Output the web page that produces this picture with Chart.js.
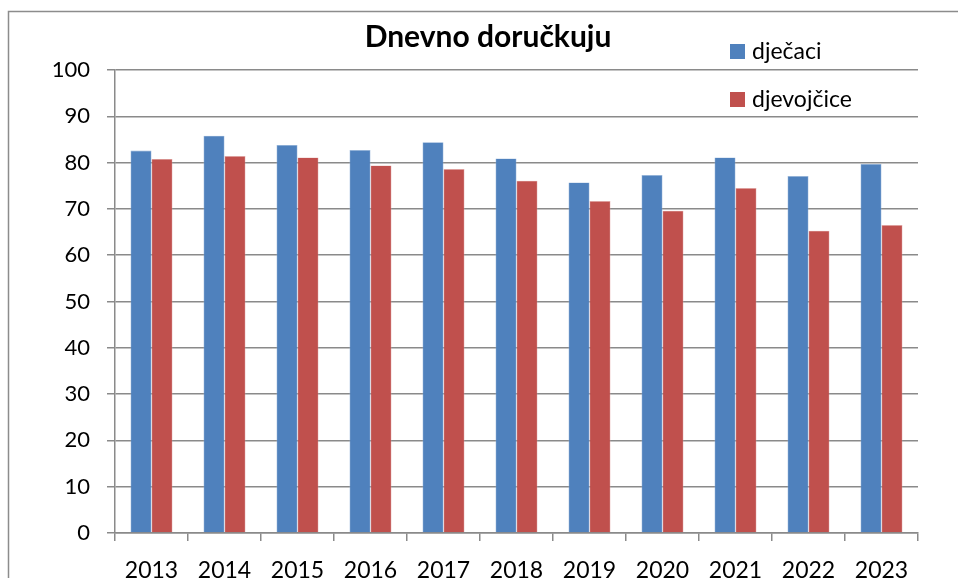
<!DOCTYPE html>
<html>
<head>
<meta charset="utf-8">
<script src="https://cdn.jsdelivr.net/npm/chart.js@4.4.1/dist/chart.umd.min.js"></script>
<style>
html,body{margin:0;padding:0;background:#fff;}
#wrap{width:958px;height:578px;position:relative;}
</style>
</head>
<body>
<div id="wrap"><canvas id="c" width="958" height="578"></canvas></div>
<script>
const categories = ['2013','2014','2015','2016','2017','2018','2019','2020','2021','2022','2023'];
const djecaci = [82.6, 85.8, 83.8, 82.7, 84.4, 80.9, 75.7, 77.3, 81.1, 77.1, 79.7];
const djevojcice = [80.8, 81.4, 81.1, 79.4, 78.6, 76.1, 71.7, 69.6, 74.5, 65.3, 66.5];
const seriesNames = ['dječaci', 'djevojčice'];
const titleText = 'Dnevno doručkuju';
const yTicks = [0,10,20,30,40,50,60,70,80,90,100];

const FONT = 'Lato, "Open Sans", sans-serif';
const BLUE = '#4F81BD', RED = '#C0504D', GRID = '#8a8a8a';

const decor = {
  id: 'decor',
  afterDraw(chart) {
    const ctx = chart.ctx;
    ctx.save();
    // outer frame
    ctx.strokeStyle = '#8c8c8c';
    ctx.lineWidth = 1.5;
    ctx.strokeRect(8.5, 11.5, 970, 600);
    // title
    ctx.fillStyle = '#000';
    ctx.font = 'bold 30px ' + FONT;
    ctx.textAlign = 'center';
    ctx.textBaseline = 'alphabetic';
    ctx.fillText(titleText, 488, 47);
    // legend
    ctx.font = '23px ' + FONT;
    ctx.textAlign = 'left';
    const items = chart.data.datasets;
    const ys = [44, 92];
    items.forEach((ds, i) => {
      ctx.fillStyle = ds.backgroundColor;
      ctx.fillRect(730, ys[i], 15, 15);
      ctx.fillStyle = '#000';
      ctx.fillText(ds.label, 752, ys[i] + 15);
    });
    ctx.restore();
  }
};

new Chart(document.getElementById('c'), {
  type: 'bar',
  data: {
    labels: categories,
    datasets: [
      { label: seriesNames[0], data: djecaci, backgroundColor: BLUE, borderColor: '#8fb0d8', borderWidth: 0.6 },
      { label: seriesNames[1], data: djevojcice, backgroundColor: RED, borderColor: '#e0a3a1', borderWidth: 0.6 }
    ]
  },
  options: {
    responsive: false,
    animation: false,
    devicePixelRatio: 1,
    layout: { padding: { top: 70, right: 40, left: 0, bottom: 0 } },
    plugins: { legend: { display: false }, title: { display: false }, tooltip: { enabled: false } },
    datasets: { bar: { categoryPercentage: 0.575, barPercentage: 1.0 } },
    scales: {
      x: {
        offset: true,
        grid: { display: true, drawOnChartArea: false, drawTicks: true, tickLength: 8, color: GRID, lineWidth: 1.5, offset: true },
        border: { display: true, color: GRID, width: 1.5 },
        ticks: { color: '#000', font: { family: FONT, size: 23 }, padding: 16, maxRotation: 0 },
        afterFit(s) { s.height = 45; }
      },
      y: {
        min: 0, max: 100,
        afterBuildTicks(s) { s.ticks = yTicks.map(v => ({ value: v })); },
        grid: { color: GRID, lineWidth: 1.5, tickLength: 8 },
        border: { display: true, color: GRID, width: 1.5 },
        ticks: { color: '#000', font: { family: FONT, size: 22 }, padding: 17 },
        afterFit(s) { s.width = 115; }
      }
    }
  },
  plugins: [decor]
});
</script>
</body>
</html>
